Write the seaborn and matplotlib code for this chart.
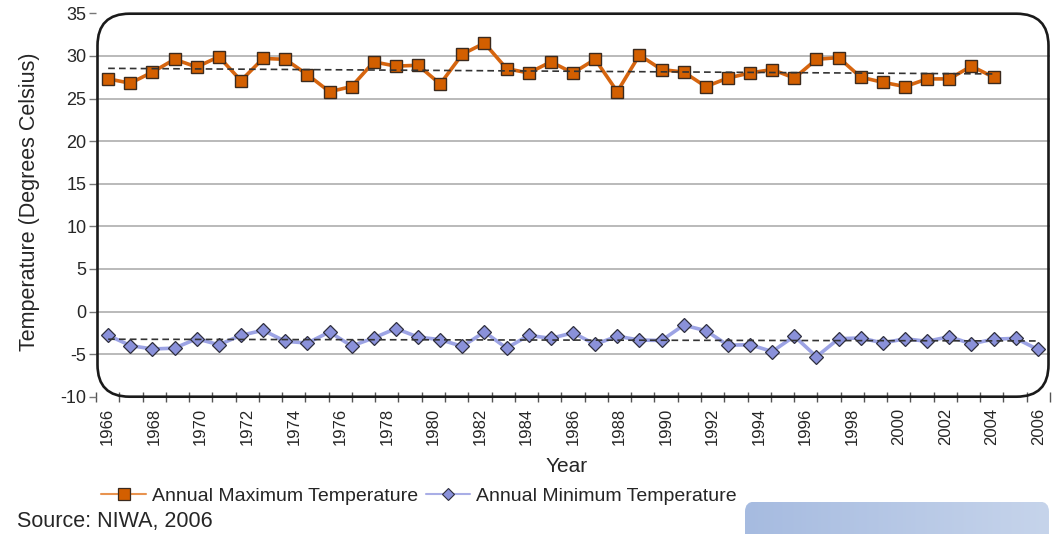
import numpy as np
import matplotlib
matplotlib.use("Agg")
import matplotlib.pyplot as plt
import seaborn as sns
from matplotlib.patches import FancyBboxPatch
from matplotlib.lines import Line2D
from matplotlib.transforms import IdentityTransform

# ---------------- data ----------------
year_labels = list(range(1966, 2007))
max_temp = [27.3, 26.8, 28.1, 29.6, 28.7, 29.9, 27.1, 29.7, 29.6, 27.8,
            25.8, 26.4, 29.3, 28.8, 28.9, 26.7, 30.2, 31.5, 28.5, 28.0,
            29.3, 28.0, 29.6, 25.8, 30.1, 28.4, 28.1, 26.4, 27.4, 28.0,
            28.4, 27.4, 29.6, 29.8, 27.5, 26.9, 26.4, 27.3, 27.3, 28.8, 27.5]
min_temp = [-2.8, -4.0, -4.4, -4.3, -3.2, -3.9, -2.8, -2.2, -3.5, -3.7,
            -2.4, -4.05, -3.1, -2.0, -3.0, -3.3, -4.1, -2.4, -4.3, -2.8,
            -3.15, -2.5, -3.85, -2.9, -3.35, -3.4, -1.6, -2.25, -3.95, -3.9,
            -4.7, -2.9, -5.3, -3.2, -3.1, -3.7, -3.2, -3.5, -2.95, -3.8,
            -3.25, -3.15, -4.45]
y_ticks = list(range(-10, 36, 5))
labels = ["Annual Maximum Temperature", "Annual Minimum Temperature"]

# ---------------- style ----------------
sns.set_style("white")
plt.rcParams['font.family'] = ['Liberation Sans', 'DejaVu Sans']

W, H = 1054, 534
fig = plt.figure(figsize=(W / 100, H / 100), dpi=100)

# axes spanning px x 96..1050, y 13.3..396.7
ax = fig.add_axes([96 / W, (H - 396.7) / H, 954 / W, 383.4 / H])
ax.set_xlim(-0.5, len(year_labels) - 0.5)
ax.set_ylim(-10, 35)
ax.set_yticks(y_ticks)
ax.set_yticklabels([str(v) for v in y_ticks])
for v in y_ticks[1:-1]:
    ax.axhline(v, color='#b4b4b4', lw=1.3, zorder=0)

major = np.arange(0, len(year_labels), 2)
ax.set_xticks(major)
ax.set_xticklabels([str(year_labels[i]) for i in major], rotation=90, fontsize=12)
ax.set_xticks(np.arange(-0.5, len(year_labels)), minor=True)
ax.tick_params(axis='x', which='both', bottom=True)
ax.tick_params(axis='x', which='major', length=0, pad=8)
ax.tick_params(axis='x', which='minor', direction='inout', length=7, width=1,
               color='#555555')
ax.tick_params(axis='y', which='major', left=True, direction='out', length=5,
               width=1, color='#777777', labelsize=13, pad=2)
for s in ax.spines.values():
    s.set_visible(False)

# data axis (hidden x scale)
ax2 = ax.twiny()
ax2.set_xlim(-0.55, 42.55)
ax2.set_ylim(-10, 35)
ax2.set_xticks([])
for s in ax2.spines.values():
    s.set_visible(False)

x_max = np.arange(len(max_temp))
x_min = np.arange(len(min_temp))

sns.lineplot(x=x_max, y=max_temp, ax=ax2, color='#d6650f', lw=2.6,
             marker='s', markersize=9, markerfacecolor='#d35f00',
             markeredgecolor='#3b2a1e', markeredgewidth=1.0, zorder=3)
sns.lineplot(x=x_min, y=min_temp, ax=ax2, color='#9ca3e4', lw=2.6,
             marker='D', markersize=7.5, markerfacecolor='#8a91da',
             markeredgecolor='#2e2e3e', markeredgewidth=0.9, zorder=3)

dash_kws = dict(color='#333333', lw=1.2, ls=(0, (4, 2.5)), zorder=4)
sns.regplot(x=x_max, y=max_temp, ax=ax2, scatter=False, ci=None, truncate=True,
            line_kws=dash_kws)
sns.regplot(x=x_min, y=min_temp, ax=ax2, scatter=False, ci=None, truncate=True,
            line_kws=dash_kws)
ax2.set_xlim(-0.55, 42.55)
ax2.set_ylim(-10, 35)
ax2.set_xlabel('')
ax2.set_ylabel('')
ax2.set_xticks([])

# rounded frame (display pixels, origin bottom-left)
frame = FancyBboxPatch((97.5, H - 396.7), 951, 383.0,
                       boxstyle="round,pad=0,rounding_size=32",
                       transform=IdentityTransform(), fill=False,
                       edgecolor='#1a1a1a', lw=1.9, zorder=10)
fig.add_artist(frame)

# decorative blue box bottom-right
deco_ax = fig.add_axes([745 / W, 0, (1049 - 745) / W, (H - 501.5) / H])
deco_ax.axis('off')
grad = np.linspace(0, 1, 256).reshape(1, -1)
cmap = matplotlib.colors.LinearSegmentedColormap.from_list('g', ['#a6bbe0', '#c6d4eb'])
im = deco_ax.imshow(grad, aspect='auto', cmap=cmap, extent=(0, 1, 0, 1))
clip = FancyBboxPatch((745, -20), 304, H - 501.5 + 20,
                      boxstyle="round,pad=0,rounding_size=10",
                      transform=IdentityTransform())
im.set_clip_path(clip)

# texts
fig.text(30 / W, 1 - 202 / H, 'Temperature (Degrees Celsius)', rotation=90,
         ha='center', va='center', fontsize=15.5)
fig.text(567 / W, 1 - 467 / H, 'Year', ha='center', va='center', fontsize=15)
fig.text(17 / W, 1 - 521 / H, 'Source: NIWA, 2006', ha='left', va='center', fontsize=15.5)

handles = [
    Line2D([], [], color='#e8934f', lw=1.5, marker='s', markersize=8,
           markerfacecolor='#d35f00', markeredgecolor='#3b2a1e', markeredgewidth=0.9),
    Line2D([], [], color='#a9aee6', lw=1.5, marker='D', markersize=6,
           markerfacecolor='#8a91da', markeredgecolor='#2e2e3e', markeredgewidth=0.8),
]
fig.legend(handles, labels, loc='center', bbox_to_anchor=(419 / W, 1 - 496 / H),
           ncol=2, frameon=False, fontsize=14, handlelength=2.3, handletextpad=0.3,
           columnspacing=0.4, borderpad=0, borderaxespad=0)

fig.savefig('out.png', dpi=100)
